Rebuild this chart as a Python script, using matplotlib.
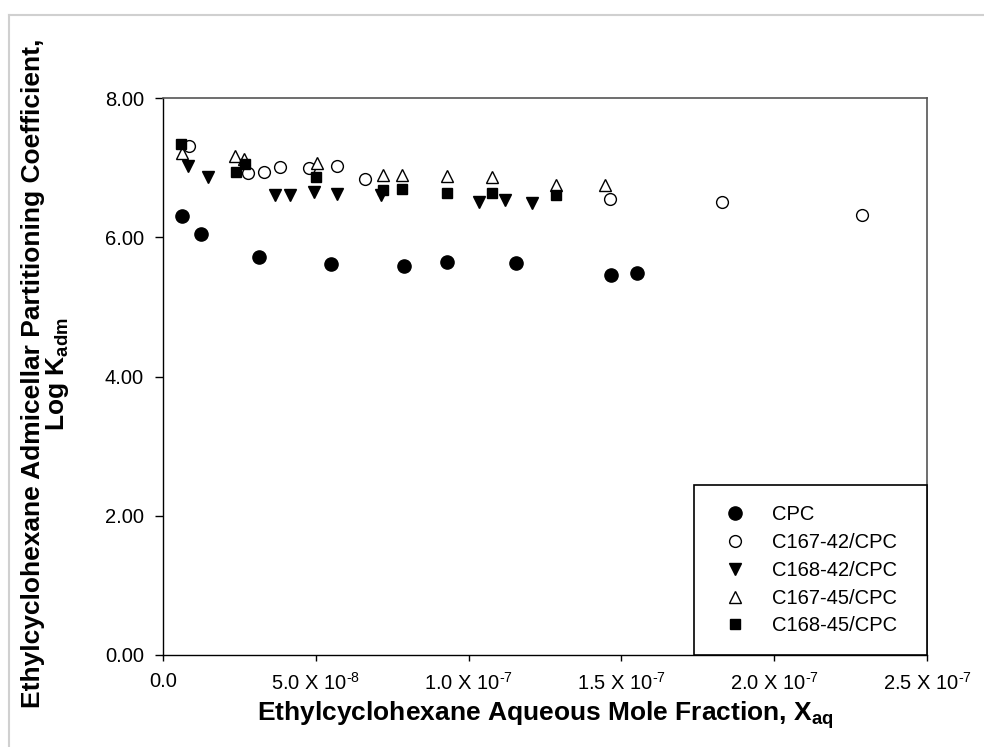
import matplotlib
matplotlib.use("Agg")
import matplotlib.pyplot as plt
from matplotlib.lines import Line2D
from matplotlib.ticker import FixedLocator

plt.rcParams['font.family'] = ['Liberation Sans', 'DejaVu Sans']
plt.rcParams['mathtext.fontset'] = 'custom'
plt.rcParams['mathtext.rm'] = 'Liberation Sans'
plt.rcParams['mathtext.it'] = 'Liberation Sans:italic'
plt.rcParams['mathtext.bf'] = 'Liberation Sans:bold'

# data (x in units of 1e-8 mole fraction)
cpc_x = [0.62, 1.24, 3.14, 5.50, 7.90, 9.30, 11.55, 14.66, 15.50]
cpc_y = [6.31, 6.05, 5.72, 5.62, 5.59, 5.64, 5.63, 5.46, 5.49]

c167_42_x = [0.86, 2.79, 3.31, 3.83, 4.79, 5.68, 6.61, 14.63, 18.28, 22.87]
c167_42_y = [7.31, 6.92, 6.93, 7.01, 6.99, 7.02, 6.83, 6.55, 6.51, 6.32]

c168_42_x = [0.81, 1.46, 3.66, 4.16, 4.94, 5.68, 7.12, 10.35, 11.19, 12.06]
c168_42_y = [7.03, 6.86, 6.60, 6.60, 6.65, 6.62, 6.60, 6.50, 6.54, 6.49]

c167_45_x = [0.63, 2.36, 2.66, 5.03, 7.21, 7.81, 9.28, 10.76, 12.86, 14.46]
c167_45_y = [7.21, 7.16, 7.12, 7.07, 6.89, 6.89, 6.88, 6.87, 6.75, 6.75]

c168_45_x = [0.59, 2.39, 2.68, 5.01, 7.21, 7.81, 9.28, 10.76, 12.86]
c168_45_y = [7.34, 6.93, 7.05, 6.86, 6.68, 6.70, 6.64, 6.63, 6.61]

x_ticks = [0.0, 5.0, 10.0, 15.0, 20.0, 25.0]
x_tick_labels = ["0.0", r"5.0 X 10$^{\text{-8}}$", r"1.0 X 10$^{\text{-7}}$",
                 r"1.5 X 10$^{\text{-7}}$", r"2.0 X 10$^{\text{-7}}$",
                 r"2.5 X 10$^{\text{-7}}$"]
y_ticks = [0.0, 2.0, 4.0, 6.0, 8.0]

fig = plt.figure(figsize=(9.84, 7.47), dpi=100)
ax = fig.add_axes([163 / 984, 92 / 747, 764 / 984, 557 / 747])

# light frame around the picture (top and left only)
fig.add_artist(Line2D([9 / 984, 1.0], [1 - 15 / 747, 1 - 15 / 747],
                      transform=fig.transFigure, color="#d0d0d0", lw=1.5))
fig.add_artist(Line2D([9 / 984, 9 / 984], [0.0, 1 - 15 / 747],
                      transform=fig.transFigure, color="#d0d0d0", lw=1.5))

ax.plot(cpc_x, cpc_y, "o", color="black", ms=9.5, label="CPC")
ax.plot(c167_42_x, c167_42_y, "o", mfc="white", mec="black", mew=1.0,
        ms=8.5, label="C167-42/CPC")
ax.plot(c168_42_x, c168_42_y, "v", color="black", ms=9, label="C168-42/CPC")
ax.plot(c167_45_x, c167_45_y, "^", mfc="white", mec="black", mew=1.0,
        ms=9, label="C167-45/CPC")
ax.plot(c168_45_x, c168_45_y, "s", color="black", ms=7.5, label="C168-45/CPC")

ax.set_xlim(0, 25)
ax.set_ylim(0, 8)
ax.xaxis.set_major_locator(FixedLocator(x_ticks))
ax.set_xticklabels(x_tick_labels)
ax.set_yticks(y_ticks)
ax.set_yticklabels(["%.2f" % v for v in y_ticks])
ax.tick_params(axis="y", direction="out", length=5.8, width=1,
               labelsize=14.5, pad=8, colors="black")
ax.tick_params(axis="x", direction="out", length=4.3, width=1,
               labelsize=14.5, pad=8, colors="black")

for side in ["left", "bottom"]:
    ax.spines[side].set_color("black")
    ax.spines[side].set_linewidth(1.0)
for side in ["top", "right"]:
    ax.spines[side].set_color("#555555")
    ax.spines[side].set_linewidth(1.2)

ax.set_xlabel(r"Ethylcyclohexane Aqueous Mole Fraction, X$_{\mathbf{aq}}$",
              fontsize=19, fontweight="bold")
ax.xaxis.set_label_coords(0.5, -0.079)
ax.set_ylabel("Ethylcyclohexane Admicellar Partitioning Coefficient,\n"
              r"Log K$_{\mathbf{adm}}$",
              fontsize=19, fontweight="bold", linespacing=0.95)
ax.yaxis.set_label_coords(-0.12, 0.505)

leg = ax.legend(loc="lower left", bbox_to_anchor=(0.695, 0.0, 0.305, 0.0),
                mode="expand", borderaxespad=0.0, fontsize=14.5,
                fancybox=False, framealpha=1.0, edgecolor="black",
                borderpad=0.97, labelspacing=0.44, handlelength=2.1,
                handletextpad=0.8)
leg.get_frame().set_linewidth(1.2)

fig.savefig("out.png", dpi=100)
